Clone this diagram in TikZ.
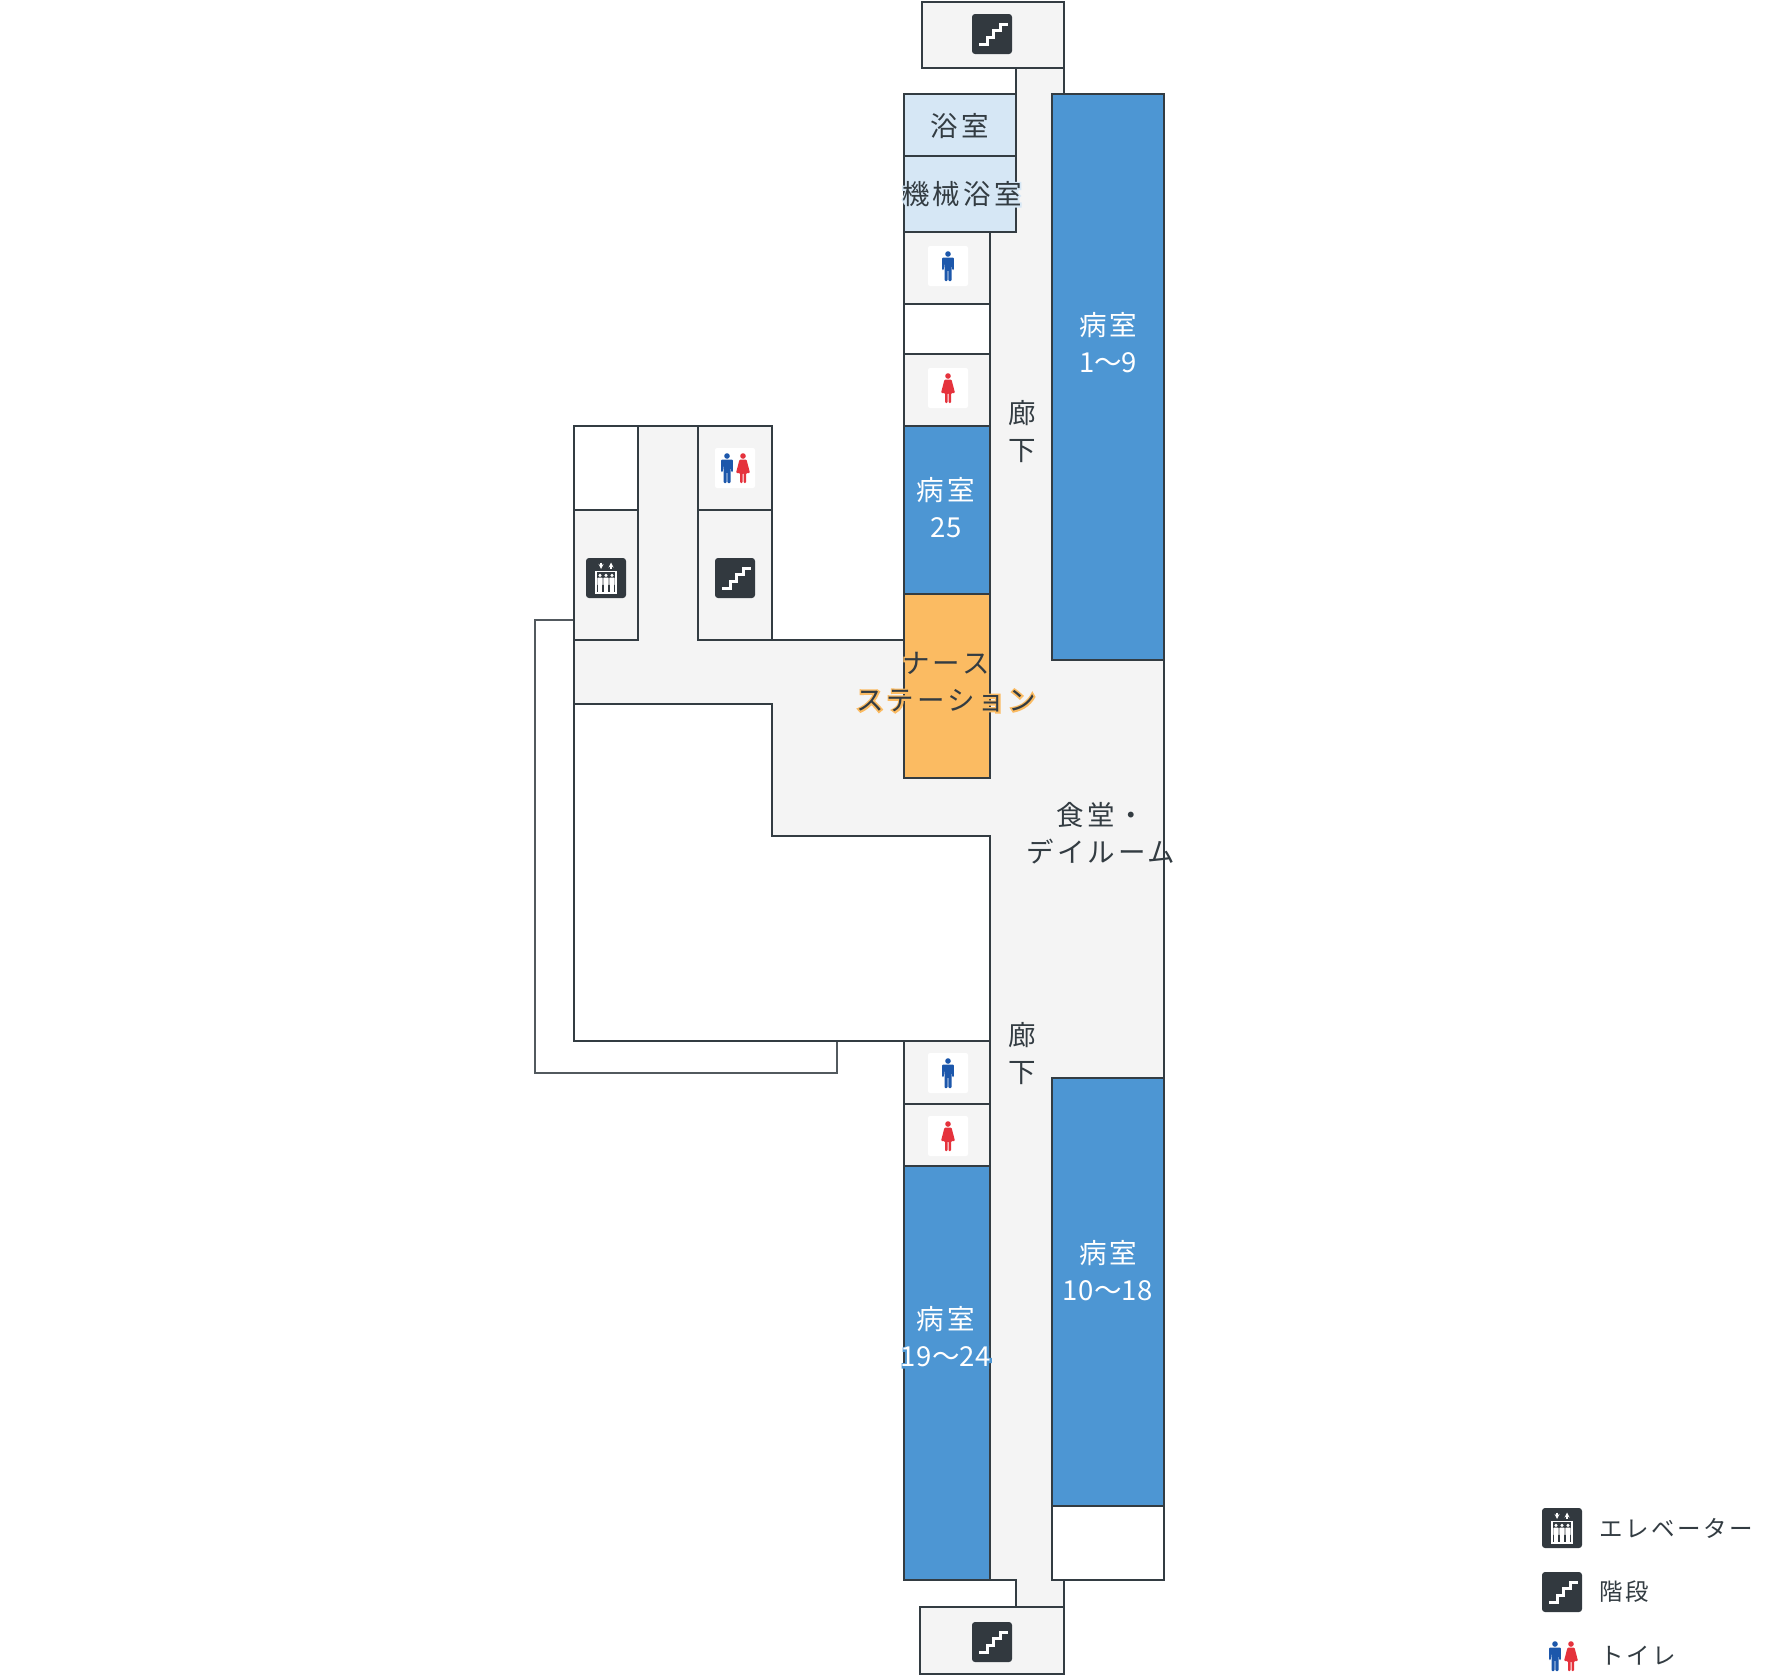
\documentclass[tikz,border=0pt]{standalone}
\usepackage{fontspec}
\usepackage{tikz}
\usetikzlibrary{positioning,calc}
\newfontfamily\jpfont[LetterSpace=11]{Noto Sans CJK JP}
\newfontfamily\jphalo[LetterSpace=11,FakeBold=12]{Noto Sans CJK JP}
\newfontfamily\numfont[LetterSpace=3]{Noto Sans CJK JP}
\newfontfamily\numhalo[LetterSpace=3,FakeBold=12]{Noto Sans CJK JP}
\definecolor{wall}{HTML}{333C42}
\definecolor{floorgrey}{HTML}{F4F4F4}
\definecolor{roomblue}{HTML}{4D96D3}
\definecolor{bathblue}{HTML}{D6E7F5}
\definecolor{nurseorange}{HTML}{FBBB62}
\definecolor{iconbox}{HTML}{32393F}
\definecolor{mancolor}{HTML}{1C57AB}
\definecolor{womancolor}{HTML}{E5323C}
\tikzset{
	plan/.style={draw=wall,line width=2.3pt},
	room/.style={plan,fill=roomblue},
	label/.style={font=\jpfont\fontsize{27.5}{37}\selectfont,text=wall,align=center,inner sep=0pt},
	whitelabel/.style={label,text=white},
	halolabel/.style={label,font=\jphalo\fontsize{27.5}{37}\selectfont},
	legendlabel/.style={font=\jpfont\fontsize{23.5}{30}\selectfont,text=wall,anchor=west,inner sep=0pt}
}
\newcommand{\roomnum}[1]{{\numfont #1}}
\newcommand{\halonum}[1]{{\numhalo #1}}
\newcommand{\stairicon}[1]{%
	\fill[iconbox,rounded corners=3] ($(#1)+(-20,-20)$) rectangle ($(#1)+(20,20)$);
	\draw[white,line width=3pt,shift={(#1)}] (-13,10) -- (-5,10) -- (-5,3.5) -- (1.5,3.5) -- (1.5,-3.5) -- (8.5,-3.5) -- (8.5,-9.5) -- (16,-9.5);
}
\newcommand{\lifticon}[1]{%
	\begin{scope}[shift={(#1)}]
		\fill[iconbox,rounded corners=3] (-20,-20) rectangle (20,20);
		\draw[white,line width=1.2pt] (-10,-6.5) rectangle (10,15);
		\draw[white,line width=1.2pt,->,>=stealth] (-5,-15.5) -- (-5,-9);
		\draw[white,line width=1.2pt,->,>=stealth] (5,-9) -- (5,-15.5);
		\foreach \px in {-6,0,6} {
			\fill[white] (\px,-2.6) circle (1.7);
			\fill[white,rounded corners=0.5] (\px-2.6,-0.4) rectangle (\px+2.6,7);
			\fill[white] (\px-1.8,7) rectangle (\px+1.8,15);
		}
	\end{scope}
}
\newcommand{\mansign}[1]{%
	\begin{scope}[shift={(#1)}]
		\fill[mancolor] (0,-12) circle (2.8);
		\fill[mancolor,rounded corners=1] (-5.8,-8.5) -- (5.8,-8.5) -- (5.8,4) -- (4.3,4) -- (3.5,-4) -- (3.5,15) -- (0.4,15) -- (0.4,4) -- (-0.4,4) -- (-0.4,15) -- (-3.5,15) -- (-3.5,-4) -- (-4.3,4) -- (-5.8,4) -- cycle;
	\end{scope}
}
\newcommand{\womansign}[1]{%
	\begin{scope}[shift={(#1)}]
		\fill[womancolor] (0,-12) circle (2.8);
		\fill[womancolor,rounded corners=1] (-3.5,-8.5) -- (3.5,-8.5) -- (7,5) -- (3,5) -- (3,15) -- (0.5,15) -- (0.5,5) -- (-0.5,5) -- (-0.5,15) -- (-3,15) -- (-3,5) -- (-7,5) -- cycle;
	\end{scope}
}
\newcommand{\whitebox}[1]{%
	\fill[white,rounded corners=2,shift={(#1)}] (-20,-20) rectangle (20,20);
}
\begin{document}
\begin{tikzpicture}[x=1pt,y=-1pt]
	\useasboundingbox (0,0) rectangle (1780,1676);
	% floor
	\draw[plan,fill=floorgrey] (1016,68) -- (1064,68) -- (1064,94) -- (1052,94) -- (1052,660) -- (1164,660) -- (1164,1078) -- (1052,1078) -- (1052,1580) -- (1064,1580) -- (1064,1607) -- (1016,1607) -- (1016,1580) -- (990,1580) -- (990,836) -- (772,836) -- (772,704) -- (574,704) -- (574,426) -- (772,426) -- (772,640) -- (904,640) -- (904,594) -- (990,594) -- (990,232) -- (1016,232) -- cycle;
	% outer walls on the left
	\draw[draw=wall!85!white,line width=1.8pt] (574,620) -- (535,620) -- (535,1073) -- (837,1073) -- (837,1041);
	\draw[plan] (574,704) -- (574,1041) -- (904,1041);
	% stair boxes
	\draw[plan,fill=floorgrey] (922,2) rectangle (1064,68);
	\draw[plan,fill=floorgrey] (920,1607) rectangle (1064,1674);
	% top rooms
	\draw[plan,fill=bathblue] (904,94) rectangle (1016,156);
	\draw[plan,fill=bathblue] (904,156) rectangle (1016,232);
	\draw[plan,fill=floorgrey] (904,232) rectangle (990,304);
	\draw[plan,fill=white] (904,304) rectangle (990,354);
	\draw[plan,fill=floorgrey] (904,354) rectangle (990,426);
	\draw[room] (904,426) rectangle (990,594);
	\draw[plan,fill=nurseorange] (904,594) rectangle (990,778);
	\draw[room] (1052,94) rectangle (1164,660);
	% lift and stairs wing
	\draw[plan,fill=white] (574,426) rectangle (638,510);
	\draw[plan] (574,510) rectangle (638,640);
	\draw[plan] (698,426) rectangle (772,510);
	\draw[plan] (698,510) rectangle (772,640);
	% bottom rooms
	\draw[plan,fill=floorgrey] (904,1041) rectangle (990,1104);
	\draw[plan,fill=floorgrey] (904,1104) rectangle (990,1166);
	\draw[room] (904,1166) rectangle (990,1580);
	\draw[room] (1052,1078) rectangle (1164,1506);
	\draw[plan,fill=white] (1052,1506) rectangle (1164,1580);
	% icons
	\stairicon{992,34}
	\stairicon{992,1642}
	\stairicon{735,578}
	\lifticon{606,578}
	\whitebox{948,266}
	\mansign{948,266}
	\whitebox{948,388}
	\womansign{948,388}
	\whitebox{948,1073}
	\mansign{948,1073}
	\whitebox{948,1136}
	\womansign{948,1136}
	\whitebox{735,468}
	\mansign{727,468}
	\womansign{743,468}
	% labels
	\node[label] (bath) at (960,126) {浴室};
	\node[halolabel,text=bathblue] (machinehalo) at (962,194) {機械浴室};
	\node[label] (machinebath) at (962,194) {機械浴室};
	\node[whitelabel] (roomA) at (1108,343) {病室\\\roomnum{1}〜\roomnum{9}};
	\node[whitelabel] (roomB) at (946,508) {病室\\\roomnum{25}};
	\node[whitelabel] (roomC) at (1108,1271) {病室\\\roomnum{10}〜\roomnum{18}};
	\node[halolabel,text=roomblue] (roomDhalo) at (946,1337) {\phantom{病室}\\\halonum{19}〜\halonum{24}};
	\node[whitelabel] (roomD) at (946,1337) {病室\\\roomnum{19}〜\roomnum{24}};
	\node[halolabel,text=nurseorange] (nursehalo) at (946,682) {ナース\\ステーション};
	\node[label] (nurse) at (946,682) {ナース\\ステーション};
	\node[label] (dining) at (1101,833) {食堂・\\デイルーム};
	\node[label] (hallA) at (1022,432) {廊\\下};
	\node[label] (hallB) at (1022,1054) {廊\\下};
	% legend
	\lifticon{1562,1528}
	\stairicon{1562,1592}
	\mansign{1555,1656}
	\womansign{1571,1656}
	\node[legendlabel] (legendlift) at (1599,1528) {エレベーター};
	\node[legendlabel] (legendstair) at (1599,1592) {階段};
	\node[legendlabel] (legendtoilet) at (1600,1656) {トイレ};
\end{tikzpicture}
\end{document}
